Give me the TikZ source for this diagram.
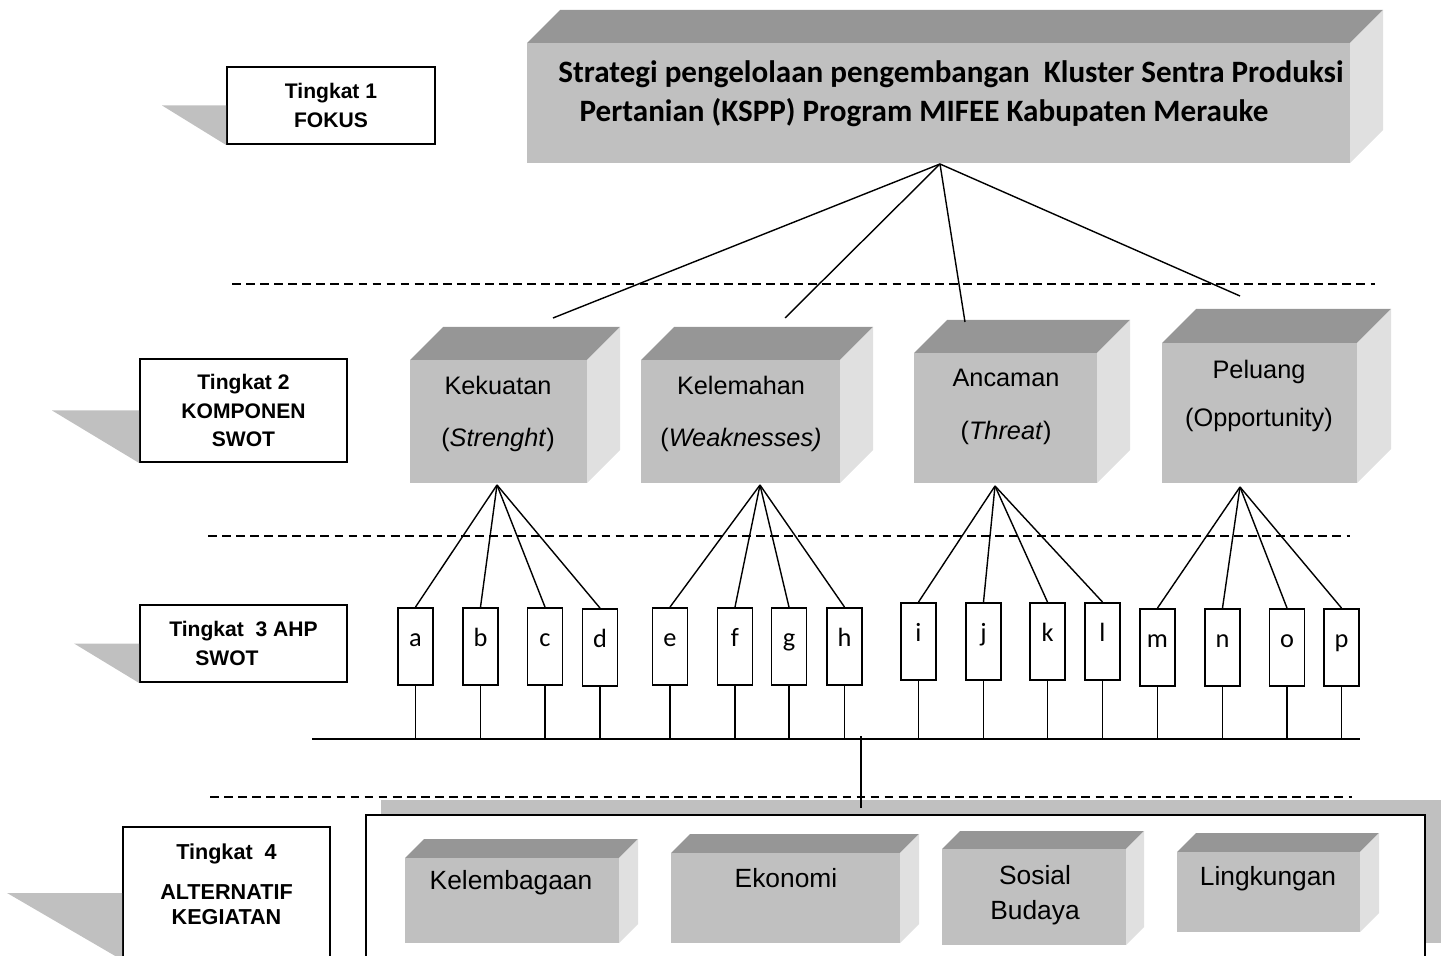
\documentclass[tikz,border=0pt]{standalone}
\usepackage{fontspec}
\setmainfont{Liberation Sans}
\newfontfamily\calibri{Carlito}
\usetikzlibrary{calc}
\definecolor{sisiatas}{HTML}{969696}
\definecolor{sisidepan}{HTML}{C0C0C0}
\definecolor{sisikanan}{HTML}{E0E0E0}

\newcommand{\balok}[5]{%
  \fill[sisiatas] (#1,#2) -- (#1+#5,#2-#5) -- (#3+#5,#2-#5) -- (#3,#2) -- cycle;
  \fill[sisikanan] (#3,#2) -- (#3+#5,#2-#5) -- (#3+#5,#4-#5) -- (#3,#4) -- cycle;
  \fill[sisidepan] (#1,#2) rectangle (#3,#4);
}

\begin{document}
\begin{tikzpicture}[x=0.02cm,y=-0.02cm,line width=0.8pt,
  tingkat/.style={draw,fill=white,line width=1.1pt,inner sep=0pt,align=center,
    font=\fontsize{12}{16}\selectfont\bfseries},
  bayang/.style={fill=sisidepan},
  putus/.style={dash pattern=on 5pt off 3pt},
  judul/.style={align=center,font=\calibri\fontsize{17.7}{22}\selectfont\bfseries},
  swot/.style={align=center,font=\fontsize{14.4}{30}\selectfont},
  alt/.style={align=center,font=\fontsize{15}{20}\selectfont},
  huruf/.style={draw,line width=1.1pt,minimum width=0.7cm,minimum height=1.54cm,
    inner sep=0pt,text height=0.5cm,text depth=0.5cm,font=\calibri\fontsize{15}{16}\selectfont}]
\useasboundingbox (0,0) rectangle (1445,956);
\clip (0,0) rectangle (1445,956);

\node[tingkat,minimum width=4.16cm,minimum height=1.54cm] (tk1) at (331,105.5) {Tingkat 1\\FOKUS};
\node[tingkat,minimum width=4.14cm,minimum height=2.06cm] (tk2) at (243.5,410.5) {Tingkat 2\\KOMPONEN\\SWOT};
\node[tingkat,align=left,minimum width=4.14cm,minimum height=1.54cm] (tk3) at (243.5,643.5) {Tingkat~~3 AHP\\\hspace*{0.52cm}SWOT};
\node[tingkat,minimum width=4.14cm,minimum height=2.64cm,
  label={[align=center,yshift=0.17cm,font=\fontsize{12.3}{14.2}\selectfont\bfseries]center:{Tingkat~~4\\[8.5pt]ALTERNATIF\\KEGIATAN}}] (tk4) at (226.5,893) {};
\fill[bayang] (tk1.west) -- ++(-64,0) -- (tk1.south west) -- cycle;
\fill[bayang] (tk2.west) -- ++(-87,0) -- (tk2.south west) -- cycle;
\fill[bayang] (tk3.west) -- ++(-65,0) -- (tk3.south west) -- cycle;
\fill[bayang] (tk4.west) -- ++(-115,0) -- (tk4.south west) -- cycle;

\draw[putus] (232,284) -- (1375,284);
\draw[putus] (208,536) -- (1350,536);
\draw[putus] (210,797) -- (1352,797);

\balok{527}{43}{1350}{163}{33}
\node[judul] (fokusteks) at (951,94) {Strategi pengelolaan pengembangan~~Kluster Sentra Produksi\\Pertanian (KSPP) Program MIFEE Kabupaten Merauke\hspace*{1.08cm}};

\balok{410}{360}{587}{483}{33}
\balok{641}{360}{840}{483}{33}
\balok{914}{353}{1097}{483}{33}
\balok{1162}{343}{1357}{483}{34}
\node[swot] (kekuatan) at (498,414) {Kekuatan\\(\textit{Strenght})};
\node[swot] (kelemahan) at (741,414) {Kelemahan\\(\textit{Weaknesses)}};
\node[swot] (ancaman) at (1006,407) {Ancaman\\(\textit{Threat})};
\node[swot,font=\fontsize{14.4}{27}\selectfont] (peluang) at (1259,396) {Peluang\\(Opportunity)};

\coordinate (fokus) at (940,164);
\coordinate (s1) at (553,318);
\coordinate (s2) at (785,318);
\coordinate (s3) at (965,322);
\coordinate (s4) at (1240,296);
\foreach \t in {s1,s2,s3,s4} \draw (fokus) -- (\t);

\foreach \h/\x/\y in {a/415.5/646.5,b/480.5/646.5,c/545/646.5,d/600/647.5,e/670/646.5,f/735/646.5,
  g/789/646.5,h/844.5/646.5,i/918.5/641.5,j/983.5/641.5,k/1047.5/641.5,l/1102.5/641.5,
  m/1157.5/647.5,n/1222.5/647.5,o/1287/647.5,p/1341.5/647.5}
  \node[huruf] (\h) at (\x,\y) {\h};

\coordinate (kekB) at (497,485);
\coordinate (kelB) at (760,485);
\coordinate (ancB) at (995,486);
\coordinate (pelB) at (1240,487);
\foreach \h in {a,b,c,d} \draw (kekB) -- (\h.north);
\foreach \h in {e,f,g,h} \draw (kelB) -- (\h.north);
\foreach \h in {i,j,k,l} \draw (ancB) -- (\h.north);
\foreach \h in {m,n,o,p} \draw (pelB) -- (\h.north);

\coordinate (busW) at (312,739);
\coordinate (busE) at (1360,739);
\draw (busW) -- (busE);
\foreach \h in {a,...,p} \draw (\h.south) -- (\h.south |- busW);

\fill[bayang] (381,800) rectangle (1441,943);
\draw[line width=1.1pt,fill=white] (366,815) rectangle (1425,962);
\coordinate (busC) at (861,736);
\coordinate (wadah) at (861,808);
\draw[line width=1.4pt] (busC) -- (wadah);

\balok{405}{858}{619}{943}{19}
\balok{671}{853}{900}{943}{19}
\balok{942}{849}{1126}{945}{18}
\balok{1177}{852}{1360}{932}{19}
\node[alt] (lembaga) at (511,883) {Kelembagaan};
\node[alt] (ekonomi) at (786,878) {Ekonomi};
\node[alt] (sosbud) at (1035,895.5) {Sosial\\Budaya};
\node[alt] (lingkungan) at (1268,879) {Lingkungan};
\end{tikzpicture}
\end{document}
